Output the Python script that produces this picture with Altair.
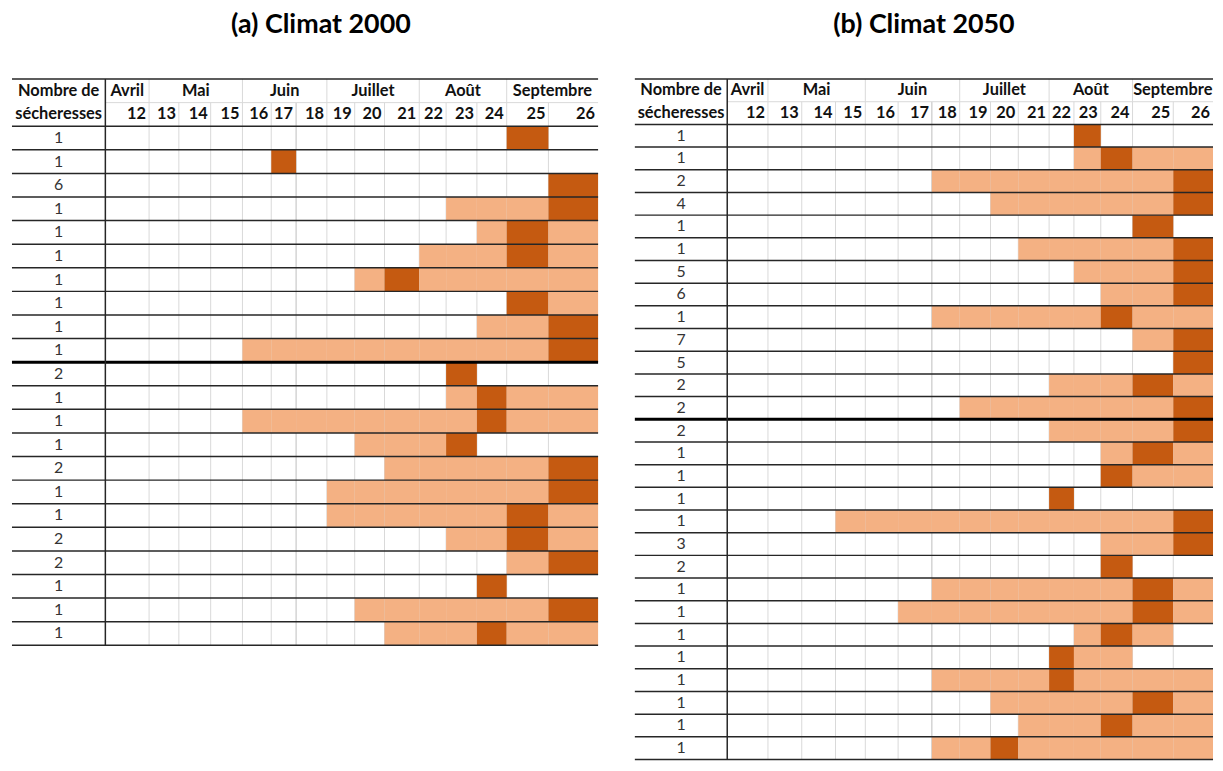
import altair as alt
import pandas as pd

# ---------------- data ----------------
WEEKS = list(range(12, 27))
MONTHS = ["Avril", "Mai", "Juin", "Juillet", "Août", "Septembre"]
MONTH_FIRST_WEEK = [12, 13, 16, 19, 22, 25]
HEADER = ["Nombre de", "sécheresses"]
TITLES = ["(a) Climat 2000", "(b) Climat 2050"]

# one string per drought pattern, one character per week 12..26
# 0 = no drought, 1 = drought, 2 = drought peak
COUNTS_2000 = [1, 1, 6, 1, 1, 1, 1, 1, 1, 1,
               2, 1, 1, 1, 2, 1, 1, 2, 2, 1, 1, 1]
ROWS_2000 = [
    "000000000000020",
    "000002000000000",
    "000000000000002",
    "000000000001112",
    "000000000000121",
    "000000000011121",
    "000000001211111",
    "000000000000021",
    "000000000000112",
    "000011111111112",
    "000000000002000",
    "000000000001211",
    "000011111111211",
    "000000001112000",
    "000000000111112",
    "000000011111112",
    "000000011111121",
    "000000000001121",
    "000000000000012",
    "000000000000200",
    "000000001111112",
    "000000000111211",
]
SPLIT_2000 = 10

COUNTS_2050 = [1, 1, 2, 4, 1, 1, 5, 6, 1, 7, 5, 2, 2,
               2, 1, 1, 1, 1, 3, 2, 1, 1, 1, 1, 1, 1, 1, 1]
ROWS_2050 = [
    "000000000002000",
    "000000000001211",
    "000000111111112",
    "000000001111112",
    "000000000000020",
    "000000000111112",
    "000000000001112",
    "000000000000112",
    "000000111111211",
    "000000000000012",
    "000000000000002",
    "000000000011121",
    "000000011111112",
    "000000000011112",
    "000000000000121",
    "000000000000211",
    "000000000020000",
    "000111111111112",
    "000000000000112",
    "000000000000200",
    "000000111111121",
    "000001111111121",
    "000000000001210",
    "000000000021100",
    "000000111121111",
    "000000001111121",
    "000000000111211",
    "000000112111111",
]
SPLIT_2050 = 13

# ---------------- layout / style ----------------
LIGHT = "#F4B183"
DARK = "#C55A11"
LINE = "#262626"
GRID = "#d9d9d9"
FONT = "Lato"
HEAD_SIZE = 16.5
NUM_SIZE = 16

LAYOUT_A = dict(label_w=94, widths=[44, 30, 32, 32, 29, 25, 31, 28, 30, 35, 27, 31, 30, 42, 50], height=570, title_dx=16)
LAYOUT_B = dict(label_w=93, widths=[41, 34, 34, 30, 33, 34, 28, 31, 28, 31, 25, 27, 32, 41, 40], height=685, title_dx=0)


def panel(title, counts, rows, split, label_w, widths, height, title_dx):
    n = len(rows)
    edges = [label_w]
    for w in widths:
        edges.append(edges[-1] + w)
    total = edges[-1]
    ytot = n + 2
    xs = alt.Scale(domain=[0, total], nice=False, zero=False)
    ys = alt.Scale(domain=[0, ytot], reverse=True, nice=False, zero=False)

    def X(f):
        return alt.X(f, type="quantitative", scale=xs, axis=None)

    def Y(f):
        return alt.Y(f, type="quantitative", scale=ys, axis=None)

    # coloured cells
    cells = []
    for r, row in enumerate(rows):
        for i, ch in enumerate(row):
            if ch != "0":
                cells.append(dict(x=edges[i], x2=edges[i + 1], y=r + 2, y2=r + 3, level=int(ch)))
    cells = pd.DataFrame(cells)

    # light grid lines
    vgrid = []
    for i in range(1, len(WEEKS)):
        vgrid.append(dict(x=edges[i], y=1, y2=ytot, c=("#bdbdbd" if WEEKS[i] == 18 else GRID)))
    for m in MONTH_FIRST_WEEK[1:]:
        vgrid.append(dict(x=edges[WEEKS.index(m)], y=0, y2=1, c=GRID))
    vgrid = pd.DataFrame(vgrid)
    hgrid = pd.DataFrame([dict(x=label_w, x2=total, y=1)])

    # dark lines
    hdark = pd.DataFrame([dict(x=0, x2=total, y=yy) for yy in [0] + list(range(2, ytot + 1)) if yy != split + 2])
    hthick = pd.DataFrame([dict(x=0, x2=total, y=split + 2)])
    vdark = pd.DataFrame([dict(x=label_w, y=0, y2=ytot)])

    # texts
    head = pd.DataFrame([dict(x=label_w / 2, y=0.5, t=HEADER[0]), dict(x=label_w / 2, y=1.5, t=HEADER[1])])
    months = []
    for k, m in enumerate(MONTHS):
        a = WEEKS.index(MONTH_FIRST_WEEK[k])
        b = WEEKS.index(MONTH_FIRST_WEEK[k + 1]) if k + 1 < len(MONTHS) else len(WEEKS)
        months.append(dict(x=(edges[a] + edges[b]) / 2, y=0.5, t=m))
    months = pd.DataFrame(months)
    weeks = pd.DataFrame([dict(x=edges[i + 1] - 3, y=1.5, t=str(w)) for i, w in enumerate(WEEKS)])
    cnt = pd.DataFrame([dict(x=label_w / 2, y=r + 2.5, t=str(c)) for r, c in enumerate(counts)])

    bold = dict(font=FONT, fontSize=HEAD_SIZE, fontWeight="bold", color="#111", baseline="middle")
    layers = [
        alt.Chart(vgrid).mark_rule(strokeWidth=1).encode(X("x"), Y("y"), y2="y2", color=alt.Color("c:N", scale=None)),
        alt.Chart(hgrid).mark_rule(strokeWidth=1, color=GRID).encode(X("x"), x2="x2", y=Y("y")),
        alt.Chart(cells).mark_rect().encode(
            X("x"), x2="x2", y=Y("y"), y2="y2",
            color=alt.Color("level:O", scale=alt.Scale(domain=[1, 2], range=[LIGHT, DARK]), legend=None)),
        alt.Chart(hdark).mark_rule(strokeWidth=1.5, color=LINE).encode(X("x"), x2="x2", y=Y("y")),
        alt.Chart(hthick).mark_rule(strokeWidth=3, color="#000000").encode(X("x"), x2="x2", y=Y("y")),
        alt.Chart(vdark).mark_rule(strokeWidth=1.5, color=LINE).encode(X("x"), Y("y"), y2="y2"),
        alt.Chart(head).mark_text(**bold).encode(X("x"), Y("y"), text="t:N"),
        alt.Chart(months).mark_text(**bold).encode(X("x"), Y("y"), text="t:N"),
        alt.Chart(weeks).mark_text(align="right", **bold).encode(X("x"), Y("y"), text="t:N"),
        alt.Chart(cnt).mark_text(font=FONT, fontSize=NUM_SIZE, color="#333", baseline="middle").encode(X("x"), Y("y"), text="t:N"),
    ]
    return alt.layer(*layers).properties(
        width=total, height=height,
        title=alt.TitleParams(title, fontSize=27, font=FONT, fontWeight="bold", anchor="middle",
                              offset=40, dx=title_dx, color="#000"),
    )


pa = panel(TITLES[0], COUNTS_2000, ROWS_2000, SPLIT_2000, **LAYOUT_A)
pb = panel(TITLES[1], COUNTS_2050, ROWS_2050, SPLIT_2050, **LAYOUT_B)

chart = alt.hconcat(pa, pb, spacing=33).properties(
    padding={"left": 2, "top": 0, "right": 0, "bottom": 0}
).configure_view(stroke=None)

chart.save("out.html", embed_options={"renderer": "svg", "actions": False})
